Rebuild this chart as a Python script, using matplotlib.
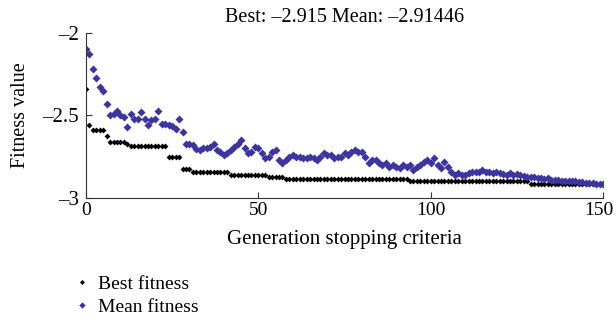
import matplotlib.pyplot as plt
import matplotlib.transforms as mtrans
import numpy as np

plt.rcParams['font.family'] = ['Liberation Serif', 'DejaVu Serif']

# best fitness per generation (piecewise constant runs)
best_levels = [-2.34, -2.557, -2.59, -2.625, -2.66, -2.67, -2.683, -2.75,
               -2.826, -2.845, -2.86, -2.87, -2.885, -2.90, -2.915]
best_runs = [1, 1, 4, 1, 5, 1, 11, 4, 3, 11, 11, 5, 36, 35, 22]
best = np.repeat(best_levels, best_runs)

mean = [-2.10, -2.13, -2.22, -2.27, -2.33, -2.35, -2.43, -2.50, -2.49, -2.47,
        -2.50, -2.51, -2.57, -2.49, -2.52, -2.52, -2.48, -2.52, -2.56, -2.53,
        -2.52, -2.47, -2.55, -2.55, -2.56, -2.565, -2.58, -2.52, -2.60, -2.67,
        -2.67, -2.68, -2.705, -2.71, -2.70, -2.70, -2.69, -2.67, -2.71, -2.72,
        -2.74, -2.73, -2.71, -2.69, -2.67, -2.65, -2.70, -2.73, -2.72, -2.69,
        -2.70, -2.73, -2.76, -2.75, -2.72, -2.71, -2.77, -2.79, -2.77, -2.75,
        -2.74, -2.75, -2.75, -2.76, -2.76, -2.75, -2.76, -2.77, -2.75, -2.73,
        -2.74, -2.74, -2.76, -2.75, -2.75, -2.73, -2.74, -2.72, -2.71, -2.72,
        -2.72, -2.75, -2.79, -2.77, -2.77, -2.79, -2.80, -2.79, -2.81, -2.80,
        -2.81, -2.82, -2.80, -2.81, -2.80, -2.83, -2.81, -2.80, -2.78, -2.77,
        -2.79, -2.76, -2.80, -2.82, -2.78, -2.81, -2.84, -2.86, -2.85, -2.86,
        -2.86, -2.85, -2.84, -2.845, -2.84, -2.83, -2.84, -2.845, -2.85, -2.84,
        -2.85, -2.855, -2.86, -2.85, -2.86, -2.855, -2.86, -2.865, -2.87, -2.87,
        -2.875, -2.88, -2.88, -2.885, -2.88, -2.89, -2.89, -2.89, -2.895, -2.895,
        -2.90, -2.90, -2.90, -2.905, -2.905, -2.91, -2.91, -2.91, -2.915, -2.915,
        -2.915]
gens = np.arange(len(mean))

xticks = [0, 50, 100, 150]
yticks = [-3, -2.5, -2]
ylabels = ['–3', '–2.5', '–2']

fig = plt.figure(figsize=(6.16, 3.23), dpi=100)
ax = fig.add_axes([0.1396, 0.387, 0.8394, 0.511])

blue = '#3c35a0'
ax.plot(gens, best, 'D', color='black', ms=3.0, mec='none', label='Best fitness')
ax.plot(gens, mean, 'D', color=blue, ms=3.8, mec='none', label='Mean fitness')

ax.set_xlim(0, 150)
ax.set_ylim(-3, -2)
ax.set_xticks(xticks)
ax.set_yticks(yticks)
ax.set_yticklabels(ylabels)
ax.tick_params(direction='in', labelsize=15, length=4, color='#333333')
ax.tick_params(axis='x', pad=3, labelsize=14)
ax.tick_params(axis='y', pad=5)
ax.spines['top'].set_visible(False)
ax.spines['right'].set_visible(False)
for s in ['left', 'bottom']:
    ax.spines[s].set_color('#333333')

# nudge the "150" label a few pixels left so it stays inside the figure
last = ax.get_xticklabels()[-1]
last.set_transform(last.get_transform() +
                   mtrans.ScaledTranslation(-0.045, 0, fig.dpi_scale_trans))

ax.set_xlabel('Generation stopping criteria', fontsize=15, labelpad=8)
ax.set_ylabel('Fitness value', fontsize=14.5, labelpad=9)
fig.text(0.5593, 0.947, 'Best: –2.915 Mean: –2.91446', ha='center', va='center',
         fontsize=14.5)

fig.legend(loc='upper left', bbox_to_anchor=(0.118, 0.148), frameon=False,
           fontsize=14, handletextpad=0.3, labelspacing=0.3, handlelength=1.0,
           borderaxespad=0, borderpad=0, markerscale=0.85)

fig.savefig('out.png', dpi=100)
